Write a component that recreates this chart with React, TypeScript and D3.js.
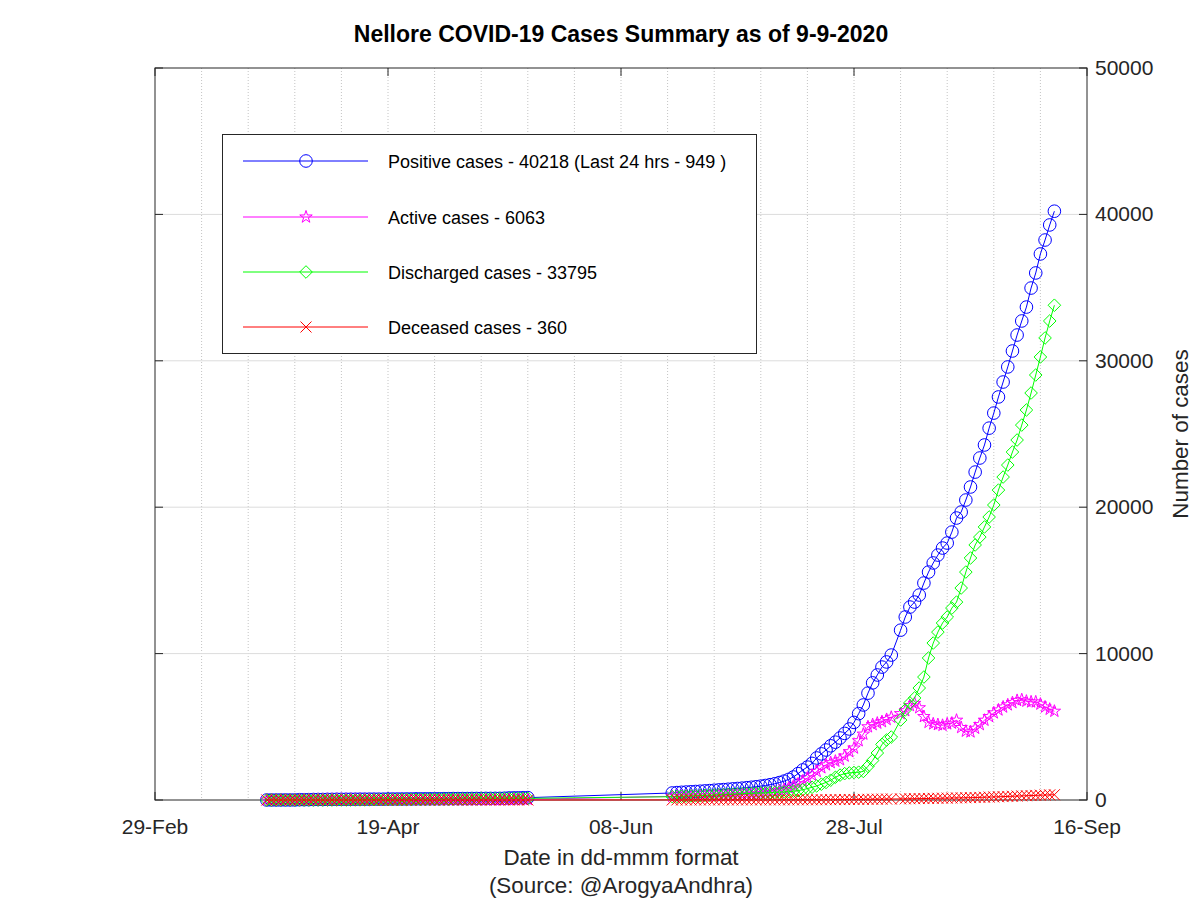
import React from "react";
import * as d3 from "d3";

// ---------- data ----------
const seriesNames = [
  "Positive cases - 40218 (Last 24 hrs - 949 )",
  "Active cases - 6063",
  "Discharged cases - 33795",
  "Deceased cases - 360",
];

const xTickLabels = ["29-Feb", "19-Apr", "08-Jun", "28-Jul", "16-Sep"];
const yTicks = [0, 10000, 20000, 30000, 40000, 50000];

// Segment 1: 24-Mar .. 19-May (57 days)
const positive1 = [
  1, 1, 1, 3, 3, 3, 3, 20,
  21, 24, 32, 34, 34, 42, 42, 48, 48, 48, 52, 52, 56, 56, 58, 58, 58, 58, 64, 67, 67, 68, 72, 72, 79, 79, 82, 84, 84, 85,
  91, 91, 96, 96, 96, 96, 102, 102, 102, 108, 108, 111, 111, 120, 140, 145, 149, 155, 160,
];
const active1 = [
  1, 1, 1, 3, 3, 3, 3, 20,
  21, 24, 32, 34, 34, 42, 41, 46, 46, 45, 48, 46, 48, 45, 40, 38, 36, 32, 34, 35, 33, 32, 30, 28, 32, 30, 28, 26, 24, 22,
  24, 22, 24, 20, 18, 16, 18, 16, 14, 16, 14, 13, 12, 18, 35, 38, 40, 44, 46,
];
const discharged1 = [
  0, 0, 0, 0, 0, 0, 0, 0,
  0, 0, 0, 0, 0, 0, 1, 2, 2, 3, 4, 5, 7, 10, 17, 19, 21, 25, 29, 31, 33, 35, 41, 43, 46, 48, 53, 57, 59, 62,
  66, 68, 71, 75, 77, 79, 83, 85, 87, 91, 93, 97, 98, 101, 104, 106, 108, 110, 113,
];
const deceased1 = [
  0, 0, 0, 0, 0, 0, 0, 0,
  0, 0, 0, 0, 0, 0, 0, 0, 0, 0, 0, 1, 1, 1, 1, 1, 1, 1, 1, 1, 1, 1, 1, 1, 1, 1, 1, 1, 1, 1,
  1, 1, 1, 1, 1, 1, 1, 1, 1, 1, 1, 1, 1, 1, 1, 1, 1, 1, 1,
];

// Segment 2: 19-Jun .. 9-Sep (daily, 6-Aug not reported) — 82 values
const positive2 = [
  480, 505, 525, 545, 560, 580, 600, 620, 640, 665, 690, 710,
  735, 760, 785, 810, 840, 870, 905, 945, 990, 1045, 1110, 1190, 1290, 1410, 1570, 1800, 2050, 2250, 2500, 2870,
  3150, 3415, 3700, 3950, 4235, 4550, 4850, 5300, 5900, 6490, 7300,
  8000, 8540, 9080, 9430, 9900, 11600, 12500, 13180, 13520, 14000, 14820, 15570, 16190, 16730, 17210,
  17550, 18300, 19260, 19670, 20490, 21380, 22400, 23360, 24250, 25400, 26430, 27530, 28550, 29580, 30670,
  31760, 32720, 33670, 34970, 36000, 37300, 38250, 39280, 40218,
];
const active2 = [
  250, 258, 262, 268, 272, 278, 284, 290, 298, 306, 315, 322,
  330, 340, 350, 360, 380, 400, 420, 450, 480, 520, 570, 640, 720, 820, 950, 1100, 1300, 1500, 1700, 1950,
  2200, 2400, 2550, 2650, 2750, 3000, 3300, 3550, 4050, 4500, 5000,
  5150, 5250, 5350, 5500, 5650, 5900, 6100, 6450, 6600, 6300, 5700, 5300, 5200, 5150, 5100,
  5200, 5250, 5450, 4950, 4700, 4650, 4900, 5150, 5450, 5700, 5950, 6150, 6350, 6500, 6650,
  6800, 6850, 6750, 6700, 6700, 6550, 6350, 6200, 6063,
];
const discharged2 = [
  225, 240, 255, 268, 280, 292, 305, 318, 330, 345, 358, 370,
  385, 395, 410, 425, 440, 455, 470, 480, 490, 505, 520, 535, 550, 570, 600, 640, 700, 780, 870, 960,
  1080, 1200, 1350, 1550, 1700, 1800, 1850, 1880, 1900, 1950, 2300,
  2700, 3210, 3800, 4100, 4300, 5460, 6150, 6630, 6970, 7650, 8400, 9700, 10720, 11470, 12090,
  12500, 13110, 13520, 14480, 15570, 16530, 17420, 17960, 18650, 19330, 20150, 21170, 22060, 22880, 23770,
  24590, 25610, 26640, 27800, 29030, 30260, 31560, 32720, 33795,
];
const deceased2 = [
  5, 5, 5, 5, 6, 6, 6, 6, 6, 7, 7, 7,
  7, 7, 8, 8, 8, 8, 9, 9, 9, 10, 10, 11, 11, 12, 12, 13, 14, 15, 16, 17,
  18, 20, 22, 24, 27, 30, 33, 36, 40, 44, 48,
  52, 56, 60, 64, 68, 76, 80, 85, 90, 95, 100, 106, 112, 118, 124,
  130, 136, 142, 148, 154, 160, 170, 180, 190, 200, 210, 220, 232, 244, 256,
  268, 280, 292, 304, 316, 328, 338, 350, 360,
];

// ---------- layout ----------
const W = 1200;
const H = 900;
const L = 155;
const R = 1087;
const T = 68;
const B = 800;
const FONT = "'Liberation Sans', Arial, Helvetica, sans-serif";
const colors = ["#0000ff", "#ff00ff", "#00ff00", "#ff0000"];
const markers = ["circle", "star", "diamond", "cross"];

const startDate = new Date(2020, 1, 29);
const endDate = new Date(2020, 8, 16);

const seg1Dates = d3.timeDay.range(new Date(2020, 2, 24), new Date(2020, 4, 20));
const seg2Dates = d3.timeDay
  .range(new Date(2020, 5, 19), new Date(2020, 8, 10))
  .filter((d) => !(d.getMonth() === 7 && d.getDate() === 6));
const allDates = seg1Dates.concat(seg2Dates);

const seriesValues = [
  positive1.concat(positive2),
  active1.concat(active2),
  discharged1.concat(discharged2),
  deceased1.concat(deceased2),
];

const x = d3.scaleTime().domain([startDate, endDate]).range([L, R]);
const y = d3.scaleLinear().domain([0, 50000]).range([B, T]);

const xTickDates = xTickLabels.map((_, i) => d3.timeDay.offset(startDate, i * 50));
const minorDates = d3.range(10, 200, 10).map((k) => d3.timeDay.offset(startDate, k));

const starPath = d3.symbol().type(d3.symbolStar).size(48)() as string;

function Marker({ kind, cx, cy, color }: { kind: string; cx: number; cy: number; color: string }) {
  const r = 6.3;
  if (kind === "circle") {
    return <circle cx={cx} cy={cy} r={r} fill="none" stroke={color} strokeWidth={1} />;
  }
  if (kind === "diamond") {
    return (
      <path
        d={`M${cx - r},${cy}L${cx},${cy - r}L${cx + r},${cy}L${cx},${cy + r}Z`}
        fill="none"
        stroke={color}
        strokeWidth={1}
      />
    );
  }
  if (kind === "star") {
    return <path d={starPath} transform={`translate(${cx},${cy})`} fill="none" stroke={color} strokeWidth={1} />;
  }
  const c = 5.5;
  return (
    <path
      d={`M${cx - c},${cy - c}L${cx + c},${cy + c}M${cx - c},${cy + c}L${cx + c},${cy - c}`}
      fill="none"
      stroke={color}
      strokeWidth={1}
    />
  );
}

export default function App() {
  const line = d3
    .line<[Date, number]>()
    .x((d) => x(d[0]))
    .y((d) => y(d[1]));

  const legendY = [161, 217, 272, 327];

  return (
    <div style={{ position: "absolute", left: 0, top: 0 }}>
      <svg width={W} height={H} style={{ display: "block", background: "#fff" }} fontFamily={FONT}>
        <rect x={0} y={0} width={W} height={H} fill="#fff" />
        {/* grid */}
        {minorDates.map((d, i) => (
          <line key={"vg" + i} x1={x(d)} x2={x(d)} y1={T} y2={B} stroke="#c4c4c4" strokeWidth={1} strokeDasharray="1,2" />
        ))}
        {yTicks.slice(1, -1).map((v) => (
          <line key={"hg" + v} x1={L} x2={R} y1={y(v)} y2={y(v)} stroke="#dcdcdc" strokeWidth={1} />
        ))}
        {/* box */}
        <rect x={L} y={T} width={R - L} height={B - T} fill="none" stroke="#262626" strokeWidth={1} />
        {/* x ticks */}
        {xTickDates.map((d, i) => (
          <g key={"xt" + i}>
            <line x1={x(d)} x2={x(d)} y1={B} y2={B - 8} stroke="#262626" />
            <line x1={x(d)} x2={x(d)} y1={T} y2={T + 8} stroke="#262626" />
            <text x={x(d)} y={834} textAnchor="middle" fontSize={21} fill="#262626">
              {xTickLabels[i]}
            </text>
          </g>
        ))}
        {/* y ticks */}
        {yTicks.map((v) => (
          <g key={"yt" + v}>
            <line x1={R} x2={R - 8} y1={y(v)} y2={y(v)} stroke="#262626" />
            <line x1={L} x2={L + 8} y1={y(v)} y2={y(v)} stroke="#262626" />
            <text x={1095} y={y(v) + 7} textAnchor="start" fontSize={21} fill="#262626">
              {v}
            </text>
          </g>
        ))}
        {/* series */}
        {seriesValues.map((vals, si) => {
          const pts: [Date, number][] = allDates.map((d, i) => [d, vals[i]]);
          return (
            <g key={"s" + si}>
              <path d={line(pts) as string} fill="none" stroke={colors[si]} strokeWidth={1} />
              {pts.map((p, i) => (
                <Marker key={i} kind={markers[si]} cx={x(p[0])} cy={y(p[1])} color={colors[si]} />
              ))}
            </g>
          );
        })}
        {/* legend */}
        <rect x={222.5} y={134.5} width={534} height={219} fill="#fff" stroke="#262626" strokeWidth={1} />
        {seriesNames.map((name, i) => (
          <g key={"lg" + i}>
            <line x1={243} x2={368} y1={legendY[i]} y2={legendY[i]} stroke={colors[i]} strokeWidth={1} />
            <Marker kind={markers[i]} cx={306} cy={legendY[i]} color={colors[i]} />
            <text x={388} y={legendY[i] + 6.5} fontSize={18} fill="#000">
              {name}
            </text>
          </g>
        ))}
        {/* titles */}
        <text x={621} y={42} textAnchor="middle" fontSize={23} fontWeight="bold" fill="#000">
          Nellore COVID-19 Cases Summary as of 9-9-2020
        </text>
        <text x={621} y={865} textAnchor="middle" fontSize={22.4} fill="#262626">
          Date in dd-mmm format
        </text>
        <text x={621} y={893} textAnchor="middle" fontSize={22.4} fill="#262626">
          (Source: @ArogyaAndhra)
        </text>
        <text
          transform={`translate(1188,${(T + B) / 2}) rotate(-90)`}
          textAnchor="middle"
          fontSize={22.4}
          fill="#262626"
        >
          Number of cases
        </text>
      </svg>
    </div>
  );
}
